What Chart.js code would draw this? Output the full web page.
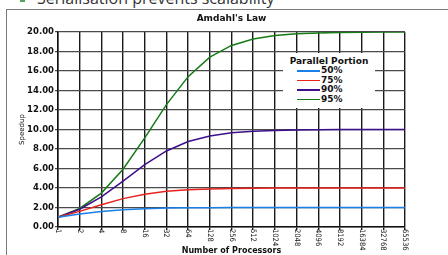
<!DOCTYPE html>
<html>
<head>
<meta charset="utf-8">
<script src="https://cdn.jsdelivr.net/npm/chart.js@4"></script>
<style>
  html, body { margin: 0; padding: 0; background: #fff; }
  body { width: 448px; height: 255px; position: relative; overflow: hidden; }
  #cabecalho {
    position: absolute; left: 37px; top: -10px;
    font: 16px/16px "Open Sans", sans-serif; color: #333; white-space: nowrap;
  }
  #marcador {
    position: absolute; left: 20px; top: 0px; width: 5px; height: 2px; background: #5aa05a;
  }
  #moldura {
    position: absolute; left: 6px; top: 9px; right: -2px; bottom: -2px;
    border-left: 1px solid #7a7a7a; border-top: 1px solid #7a7a7a;
  }
  #grafico { position: absolute; left: 0; top: 0; }
  #legenda {
    position: absolute; left: 283px; top: 53px; width: 92px; height: 55px;
    background: #fff; font: bold 9px "DejaVu Sans", sans-serif; color: #111;
  }
  #legenda .titulo { text-align: center; margin-top: 3px; height: 10px; line-height: 10px; }
  #legenda .item { position: relative; height: 9.6px; line-height: 9.6px; padding-left: 38px; }
  #legenda .item span {
    position: absolute; left: 14px; top: 4px; width: 23px; height: 1.5px;
  }
</style>
</head>
<body>
<div id="marcador"></div>
<div id="cabecalho">Serialisation prevents scalability</div>
<div id="moldura"></div>
<canvas id="grafico" width="448" height="255"></canvas>
<div id="legenda"></div>

<script>
/* =========================================================
   DADOS
========================================================= */

const processadores = ['1', '2', '4', '8', '16', '32', '64', '128', '256', '512',
  '1024', '2048', '4096', '8192', '16384', '32768', '65536'];

const porcoes = ['50%', '75%', '90%', '95%'];
const cores = ['#1a7fe6', '#e8221c', '#3d0f8c', '#167a16'];

const speedup50 = [1.00, 1.33, 1.60, 1.78, 1.88, 1.94, 1.97, 1.98, 1.99, 2.00,
  2.00, 2.00, 2.00, 2.00, 2.00, 2.00, 2.00];
const speedup75 = [1.00, 1.60, 2.29, 2.91, 3.37, 3.66, 3.82, 3.91, 3.95, 3.98,
  3.99, 3.99, 4.00, 4.00, 4.00, 4.00, 4.00];
const speedup90 = [1.00, 1.82, 3.08, 4.71, 6.40, 7.80, 8.77, 9.34, 9.66, 9.83,
  9.91, 9.96, 9.98, 9.99, 9.99, 10.00, 10.00];
const speedup95 = [1.00, 1.90, 3.48, 5.93, 9.14, 12.55, 15.42, 17.42, 18.62, 19.28,
  19.64, 19.82, 19.91, 19.95, 19.98, 19.99, 19.99];

const series = [speedup50, speedup75, speedup90, speedup95];

/* =========================================================
   LEGENDA (HTML)
========================================================= */

const legenda = document.getElementById('legenda');
legenda.innerHTML = '<div class="titulo">Parallel Portion</div>';
porcoes.forEach((p, i) => {
  const item = document.createElement('div');
  item.className = 'item';
  item.innerHTML = `<span style="background:${cores[i]}"></span>${p}`;
  legenda.appendChild(item);
});

/* =========================================================
   PLUGIN: título e rótulos verticais do eixo X
========================================================= */

const textosExtras = {
  id: 'textosExtras',
  afterDraw(chart) {
    const ctx = chart.ctx;
    const area = chart.chartArea;
    const x = chart.scales.x;

    ctx.save();
    ctx.fillStyle = '#111';
    ctx.font = 'bold 9px "DejaVu Sans", sans-serif';
    ctx.textAlign = 'center';
    ctx.textBaseline = 'middle';
    ctx.fillText("Amdahl's Law", (area.left + area.right) / 2, 19);

    // rótulos girados 90° (leitura de cima para baixo)
    ctx.font = '7.5px "DejaVu Sans Condensed", "DejaVu Sans", sans-serif';
    ctx.textAlign = 'left';
    processadores.forEach((rotulo, i) => {
      const px = x.getPixelForTick(i);
      ctx.save();
      ctx.translate(px, area.bottom + 2);
      ctx.rotate(Math.PI / 2);
      ctx.fillText(rotulo, 0, 0);
      ctx.restore();
    });
    ctx.restore();
  }
};

/* =========================================================
   GRÁFICO
========================================================= */

new Chart(document.getElementById('grafico'), {
  type: 'line',
  data: {
    labels: processadores,
    datasets: series.map((dados, i) => ({
      label: porcoes[i],
      data: dados,
      borderColor: cores[i],
      backgroundColor: cores[i],
      borderWidth: 1.5,
      pointRadius: 0,
      tension: 0,
      fill: false
    }))
  },
  options: {
    responsive: false,
    animation: false,
    layout: { padding: { left: 7, right: 43, top: 32, bottom: 0 } },
    plugins: {
      legend: { display: false },
      title: { display: false },
      tooltip: { enabled: false }
    },
    scales: {
      x: {
        type: 'category',
        offset: false,
        afterFit: s => { s.height = 28; },
        ticks: { display: false },
        grid: { color: '#1a1a1a', lineWidth: 1.4, tickLength: 3 },
        border: { color: '#111', width: 1.5 },
        title: {
          display: true,
          text: 'Number of Processors',
          color: '#111',
          font: { family: 'DejaVu Sans', size: 8, weight: 'bold', lineHeight: 1 },
          padding: { top: 0, bottom: 0 }
        }
      },
      y: {
        min: 0,
        max: 20,
        afterFit: s => { s.width = 51; },
        ticks: {
          stepSize: 2,
          padding: 1,
          color: '#111',
          font: { family: 'DejaVu Sans', size: 8.5, weight: 'bold' },
          callback: v => v.toFixed(2)
        },
        grid: { color: '#4a4a4a', lineWidth: 1.2, tickLength: 3 },
        border: { color: '#111', width: 1.5 },
        title: {
          display: true,
          text: 'Speedup',
          color: '#111',
          font: { family: 'DejaVu Sans', size: 7, lineHeight: 1 },
          padding: { top: 12, bottom: 0 }
        }
      }
    }
  },
  plugins: [textosExtras]
});
</script>
</body>
</html>
